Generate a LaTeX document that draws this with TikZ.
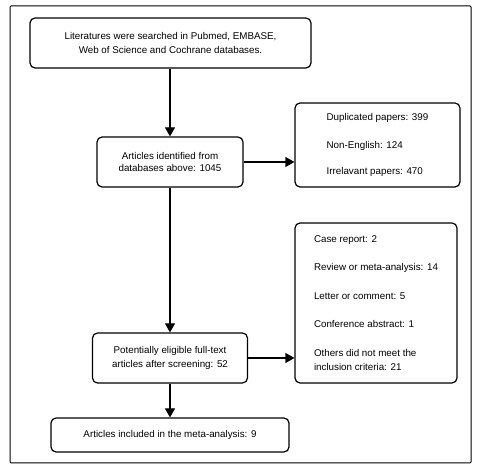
\documentclass[tikz,border=0pt]{standalone}
\usepackage{fontspec}
\setmainfont{Liberation Sans}
\usetikzlibrary{arrows.meta}
\begin{document}
\begin{tikzpicture}[x=1pt,y=-1pt,
  box/.style={draw, line width=1.2pt, rounded corners=5pt, inner sep=0pt, align=center,
    font=\fontsize{9.8}{11.5}\selectfont},
  lbox/.style={box, align=left},
  arr/.style={line width=1.2pt, -{Triangle[length=9pt,width=10pt]}}]
\useasboundingbox (0,0) rectangle (477,470);
\draw[line width=1pt, rounded corners=1pt] (10,6) rectangle (471,463);
\node[box, minimum width=281pt, minimum height=50pt] (b1) at (170.5,43)
  {Literatures were searched in Pubmed, EMBASE,\\[3pt]Web of Science and Cochrane databases.};
\node[box, minimum width=146pt, minimum height=50pt] (b2) at (170,162)
  {Articles identified from\\[1pt]databases above: 1045};
\node[lbox, minimum width=165pt, minimum height=84pt] (b3) at (377.5,145)
  {Duplicated papers: 399\\[16pt]Non-English: 124\\[15pt]Irrelavant papers: 470};
\node[lbox, minimum width=162pt, minimum height=160pt] (b4) at (376,303)
  {Case report: 2\\[17pt]Review or meta-analysis: 14\\[17pt]Letter or comment: 5\\[17pt]Conference abstract: 1\\[17pt]Others did not meet the\\[3pt]inclusion criteria: 21};
\node[box, minimum width=155pt, minimum height=50pt] (b5) at (170,358)
  {Potentially eligible full-text\\[3pt]articles after screening: 52};
\node[box, minimum width=238pt, minimum height=34pt] (b6) at (170,435)
  {Articles included in the meta-analysis: 9};
\draw[arr] (b1.south -| b2.north) -- (b2.north);
\draw[arr] (b2.east) -- (b2.east -| b3.west);
\draw[arr] (b2.south) -- (b5.north);
\draw[arr] (b5.east) -- (b5.east -| b4.west);
\draw[arr] (b5.south) -- (b6.north);
\end{tikzpicture}
\end{document}
